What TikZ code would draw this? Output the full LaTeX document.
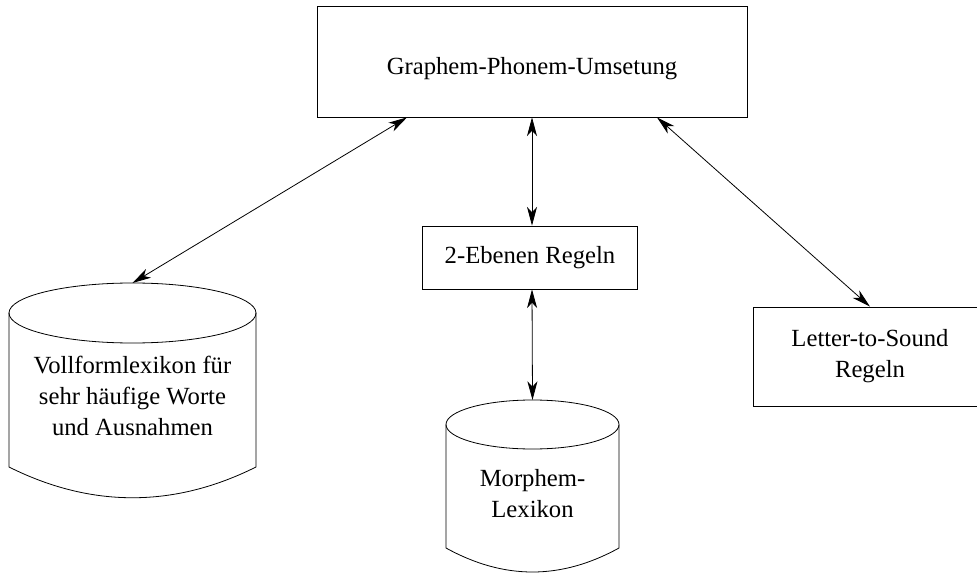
\documentclass[tikz,border=0pt]{standalone}
\usepackage{fontspec}
\setmainfont{Liberation Serif}
\usetikzlibrary{arrows.meta}

\begin{document}
\begin{tikzpicture}[
	x=0.75pt, y=-0.75pt,
	line width=0.6pt,
	font=\fontsize{18.5}{23.25}\selectfont,
	>={Stealth[length=14pt,width=7.5pt,inset=4pt]},
	box/.style={draw, rectangle, align=center, inner sep=0pt},
	label text/.style={align=center, inner sep=0pt},
	link/.style={<->}]

% Frame
\useasboundingbox (0,0) rectangle (977,573);
\clip (0,0) rectangle (977,573);

% Boxes
\node (gpu) at (532,61.5) [box, minimum width=322.5pt, minimum height=83.25pt,
	text height=18.8pt, text depth=0pt] {Graphem-Phonem-Umsetung};
\node (ebenen) at (530,257.5) [box, minimum width=161.25pt, minimum height=47.25pt] {2-Ebenen Regeln};
\node (lts) at (870,356.5) [box, minimum width=175.5pt, minimum height=74.25pt] {Letter-to-Sound\\Regeln};

% Vollformlexikon
\draw (9,313) -- (9,467) .. controls (91,508) and (174,508) .. (256,467) -- (256,313);
\draw (132.5,313) ellipse [x radius=123.5, y radius=30];
\coordinate (vollform top) at (132.5,283);
\node (vollform) at (132.5,396) [label text] {Vollformlexikon für\\sehr häufige Worte\\und Ausnahmen};

% Morphem-Lexikon
\draw (446,424.5) -- (446,548) .. controls (504,580) and (561,580) .. (619,548) -- (619,424.5);
\draw (532.5,424.5) ellipse [x radius=86.5, y radius=24.5];
\coordinate (morphem top) at (532.5,400);
\node (morphem) at (532.5,494) [label text] {Morphem-\\Lexikon};

% Links
\draw [link] ([xshift=-93.75pt]gpu.south) -- (vollform top);
\draw [link] (gpu.south) -- (gpu.south |- ebenen.north);
\draw [link] (gpu.south |- ebenen.south) -- (morphem top);
\draw [link] ([xshift=93.75pt]gpu.south) -- (lts.north);

\end{tikzpicture}
\end{document}
